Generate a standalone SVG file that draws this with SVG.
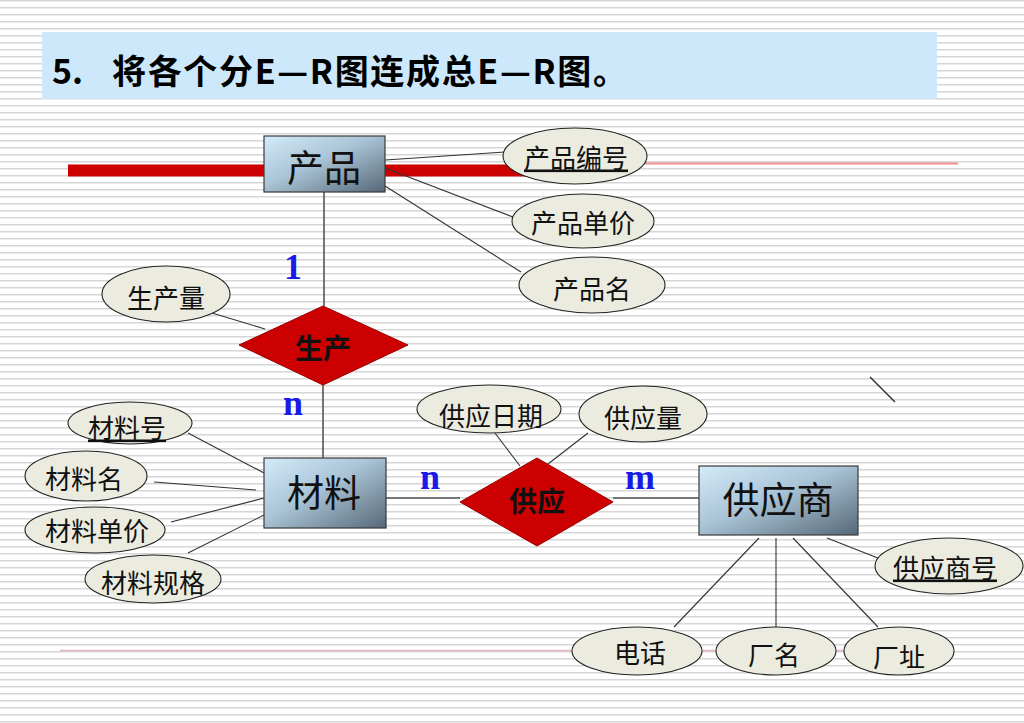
<svg xmlns="http://www.w3.org/2000/svg" width="1024" height="723" viewBox="0 0 1024 723">
<defs>
<pattern id="stripes" x="0" y="0" width="8" height="7" patternUnits="userSpaceOnUse">
<rect x="0" y="0" width="8" height="1.5" fill="#d6d6d6"/>
</pattern>
<linearGradient id="entGrad" x1="0" y1="0" x2="1" y2="1">
<stop offset="0" stop-color="#d3ebfa"/>
<stop offset="0.45" stop-color="#a9c4d6"/>
<stop offset="1" stop-color="#566878"/>
</linearGradient>
<style>
.ent rect{fill:url(#entGrad);stroke:#3a3a3a;stroke-width:1.2}
.ent text{font-family:"Noto Sans CJK SC",sans-serif;font-size:37px;fill:#111;text-anchor:middle;dominant-baseline:central}
.attr ellipse{fill:#ebebe0;stroke:#222;stroke-width:1.1}
.attr text{font-family:"Noto Sans CJK SC",sans-serif;font-size:26px;fill:#111;text-anchor:middle;dominant-baseline:central}
.key text{text-decoration:underline}
.rel polygon{fill:#cc0000;stroke:#990000;stroke-width:1}
.rel text{font-family:"Noto Sans CJK SC",sans-serif;font-size:28px;font-weight:bold;fill:#111;text-anchor:middle;dominant-baseline:central}
.card{font-family:"Liberation Serif",serif;font-weight:bold;font-size:36px;fill:#1a1ae6;text-anchor:middle}
#connectors line{stroke:#333;stroke-width:1.1}
#connectors line.main{stroke:#555;stroke-width:1.6}
</style>
</defs>
<rect width="1024" height="723" fill="#ffffff"/>
<rect width="1024" height="723" fill="url(#stripes)"/>
<!-- title -->
<g id="title">
<rect x="42" y="32" width="895" height="67" fill="#cde8fa"/>
<text x="52" y="84" font-family="'Noto Sans CJK SC',sans-serif" font-weight="bold" font-size="34" fill="#000">5.</text>
<text x="112" y="84" font-family="'Noto Sans CJK SC',sans-serif" font-weight="bold" font-size="34" fill="#000" textLength="515" lengthAdjust="spacing">将各个分E—R图连成总E—R图。</text>
</g>
<!-- decorative lines -->
<rect x="68" y="164.5" width="490" height="12" fill="#cc0000"/>
<line x1="560" y1="163.5" x2="958" y2="163.5" stroke="#f08c8c" stroke-width="2"/>
<line x1="60" y1="650.5" x2="945" y2="650.5" stroke="#e6b4bc" stroke-width="1.5"/>
<line x1="870" y1="377" x2="895" y2="402" stroke="#222" stroke-width="1.3"/>
<g id="connectors">
<line class="main" x1="324" y1="192" x2="324" y2="306"/>
<line class="main" x1="323" y1="385" x2="323" y2="458"/>
<line class="main" x1="386" y1="498" x2="460" y2="498"/>
<line class="main" x1="613" y1="498" x2="699" y2="498"/>
<line x1="385" y1="160" x2="505" y2="152"/>
<line x1="385" y1="168" x2="513" y2="217"/>
<line x1="385" y1="186" x2="521" y2="272"/>
<line x1="212" y1="313" x2="265" y2="329"/>
<line x1="188" y1="433" x2="264" y2="473"/>
<line x1="154" y1="482" x2="256" y2="490"/>
<line x1="171" y1="522" x2="264" y2="498"/>
<line x1="188" y1="553" x2="264" y2="515"/>
<line x1="495" y1="433" x2="520" y2="466"/>
<line x1="588" y1="433" x2="548" y2="464"/>
<line x1="759" y1="538" x2="674" y2="627"/>
<line x1="776" y1="538" x2="776" y2="627"/>
<line x1="793" y1="538" x2="878" y2="627"/>
<line x1="827" y1="538" x2="888" y2="562"/>
</g>
<!-- cardinalities -->
<text class="card" x="293" y="279">1</text>
<text class="card" x="293" y="415">n</text>
<text class="card" x="430" y="489">n</text>
<text class="card" x="640" y="489">m</text>
<!-- entities -->
<g id="e_product" class="ent"><rect x="264" y="136" width="121" height="56"/><text x="324" y="166">产品</text></g>
<g id="e_material" class="ent"><rect x="264" y="458" width="122" height="70"/><text x="324" y="491">材料</text></g>
<g id="e_supplier" class="ent"><rect x="699" y="466" width="159" height="69"/><text x="778" y="498">供应商</text></g>
<!-- relationships -->
<g id="r_produce" class="rel"><polygon points="323,306 408,345 323,385 239,345"/><text x="323" y="347">生产</text></g>
<g id="r_supply" class="rel"><polygon points="537,458 613,502 537,546 460,502"/><text x="537" y="500">供应</text></g>
<!-- attributes -->
<g id="a_pno" class="attr key"><ellipse cx="575" cy="156" rx="72" ry="28"/><text x="576" y="156">产品编号</text></g>
<g id="a_pprice" class="attr"><ellipse cx="583" cy="221" rx="71" ry="27"/><text x="583" y="221">产品单价</text></g>
<g id="a_pname" class="attr"><ellipse cx="592" cy="285" rx="73" ry="28"/><text x="592" y="287">产品名</text></g>
<g id="a_qty" class="attr"><ellipse cx="166" cy="294" rx="64" ry="28"/><text x="166" y="296">生产量</text></g>
<g id="a_mno" class="attr key"><ellipse cx="130" cy="423" rx="62" ry="21"/><text x="127" y="426">材料号</text></g>
<g id="a_mname" class="attr"><ellipse cx="86" cy="476" rx="61" ry="25"/><text x="84" y="477">材料名</text></g>
<g id="a_mprice" class="attr"><ellipse cx="95" cy="530" rx="70" ry="23"/><text x="97" y="529">材料单价</text></g>
<g id="a_mspec" class="attr"><ellipse cx="153" cy="579" rx="68" ry="24"/><text x="153" y="581">材料规格</text></g>
<g id="a_sdate" class="attr"><ellipse cx="489" cy="409" rx="72" ry="24"/><text x="491" y="414">供应日期</text></g>
<g id="a_sqty" class="attr"><ellipse cx="643" cy="414" rx="64" ry="28"/><text x="643" y="416">供应量</text></g>
<g id="a_sno" class="attr key"><ellipse cx="949" cy="566" rx="74" ry="28"/><text x="945" y="566">供应商号</text></g>
<g id="a_tel" class="attr"><ellipse cx="637" cy="651" rx="65" ry="24"/><text x="640" y="651">电话</text></g>
<g id="a_fname" class="attr"><ellipse cx="776" cy="651" rx="60" ry="24"/><text x="774" y="653">厂名</text></g>
<g id="a_faddr" class="attr"><ellipse cx="899" cy="651" rx="55" ry="24"/><text x="899" y="655">厂址</text></g>
</svg>
